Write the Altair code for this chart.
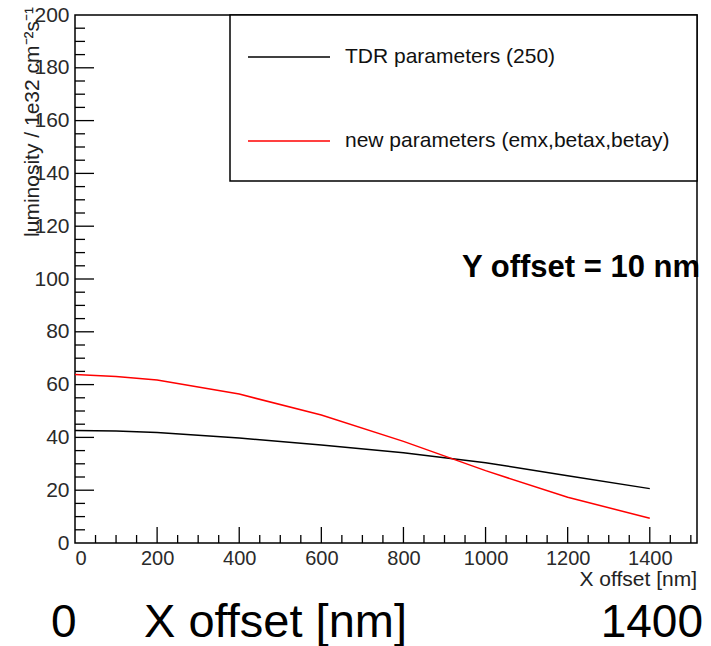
import altair as alt
import pandas as pd

# ---- data ----
x_points = [0, 100, 200, 400, 600, 800, 1000, 1200, 1400]
tdr_values = [42.6, 42.4, 41.9, 39.8, 37.1, 34.2, 30.4, 25.5, 20.6]
new_values = [63.8, 63.1, 61.7, 56.4, 48.5, 38.5, 27.4, 17.3, 9.4]
series_names = ["TDR parameters (250)", "new parameters (emx,betax,betay)"]
series_colors = ["#000000", "#ff0000"]

x_tick_labels = [0, 200, 400, 600, 800, 1000, 1200, 1400]
y_tick_labels = [0, 20, 40, 60, 80, 100, 120, 140, 160, 180, 200]

X_DOMAIN = [0, 1515]
Y_DOMAIN = [0, 200]
W, H = 622, 528
FONT = "Liberation Sans"

xs = alt.Scale(domain=X_DOMAIN, nice=False, zero=False)
ys = alt.Scale(domain=Y_DOMAIN, nice=False, zero=False)

rows = []
for name, vals in zip(series_names, [tdr_values, new_values]):
    for xv, yv in zip(x_points, vals):
        rows.append({"x": xv, "y": yv, "series": name})
df = pd.DataFrame(rows)

lines = alt.Chart(df).mark_line(strokeWidth=1.5).encode(
    x=alt.X("x:Q", scale=xs,
            axis=alt.Axis(values=x_tick_labels, format="d", labelPadding=5, title=None,
                          ticks=False, domain=False, grid=False,
                          labelFont=FONT, labelFontSize=20, labelColor="#2a2a2a")),
    y=alt.Y("y:Q", scale=ys,
            axis=alt.Axis(values=y_tick_labels, format="d", labelPadding=6, title=None,
                          ticks=False, domain=False, grid=False,
                          labelFont=FONT, labelFontSize=21, labelColor="#2a2a2a")),
    color=alt.Color("series:N", scale=alt.Scale(domain=series_names, range=series_colors), legend=None),
    order="x:Q",
)

# ---- inside ticks (ROOT style) ----
y_major = [v for v in range(20, 200, 20)]
y_minor = [v for v in range(5, 200, 5) if v % 20 != 0]
x_major = [v for v in range(200, 1515, 200)]
x_minor = [v for v in range(50, 1515, 50) if v % 200 != 0]

def yticks(vals, length):
    return alt.Chart(pd.DataFrame({"v": vals})).mark_rule(color="#000", strokeWidth=1.3).encode(
        y=alt.Y("v:Q", scale=ys), x=alt.value(0), x2=alt.value(length))

def xticks(vals, length):
    return alt.Chart(pd.DataFrame({"v": vals})).mark_rule(color="#000", strokeWidth=1.3).encode(
        x=alt.X("v:Q", scale=xs), y=alt.value(H), y2=alt.value(H - length))

one = pd.DataFrame({"a": [0]})

# ---- legend box ----
leg_rect = alt.Chart(one).mark_rect(fill="white", stroke="#000", strokeWidth=1.5).encode(
    x=alt.value(155), x2=alt.value(622), y=alt.value(0), y2=alt.value(166))
leg_df = pd.DataFrame({"series": series_names, "ly": [42, 126]})
leg_lines = alt.Chart(leg_df).mark_rule(strokeWidth=1.5).encode(
    x=alt.value(173), x2=alt.value(255), y=alt.Y("ly:Q", scale=None),
    color=alt.Color("series:N", scale=alt.Scale(domain=series_names, range=series_colors), legend=None))
leg_text = alt.Chart(leg_df).mark_text(align="left", baseline="middle", font=FONT, fontSize=21, color="#111").encode(
    x=alt.value(270), y=alt.Y("ly:Q", scale=None), text="series:N")

annot = alt.Chart(one).mark_text(align="left", baseline="middle", font=FONT, fontSize=31,
                                  fontWeight="bold", color="#000").encode(
    x=alt.value(387), y=alt.value(253), text=alt.value("Y offset = 10 nm"))

x_title = alt.Chart(one).mark_text(align="right", baseline="alphabetic", font=FONT, fontSize=21, color="#222").encode(
    x=alt.value(622), y=alt.value(571), text=alt.value("X offset [nm]"))
y_title = alt.Chart(one).mark_text(align="right", baseline="alphabetic", angle=270, font=FONT, fontSize=21,
                                   color="#222").encode(
    x=alt.value(-36), y=alt.value(-8), text=alt.value("luminosity / 1e32 cm⁻²s⁻¹"))

big_left = alt.Chart(one).mark_text(align="left", baseline="alphabetic", font=FONT, fontSize=46, color="#000").encode(
    x=alt.value(-24), y=alt.value(622), text=alt.value("0"))
big_mid = alt.Chart(one).mark_text(align="left", baseline="alphabetic", font=FONT, fontSize=47, color="#000").encode(
    x=alt.value(69), y=alt.value(622), text=alt.value("X offset [nm]"))
big_right = alt.Chart(one).mark_text(align="right", baseline="alphabetic", font=FONT, fontSize=46, color="#000").encode(
    x=alt.value(628), y=alt.value(622), text=alt.value("1400"))

chart = alt.layer(
    lines,
    yticks(y_major, 19), yticks(y_minor, 10),
    xticks(x_major, 16), xticks(x_minor, 8),
    leg_rect, leg_lines, leg_text, annot,
    x_title, y_title, big_left, big_mid, big_right,
).properties(
    width=W, height=H,
    background="white",
    autosize=alt.AutoSizeParams(type="none"),
    padding={"left": 75, "top": 15, "right": 14, "bottom": 103},
).configure_view(
    stroke="#000", strokeWidth=1.5
)

chart.save("out.html", embed_options={"renderer": "svg", "actions": False})
